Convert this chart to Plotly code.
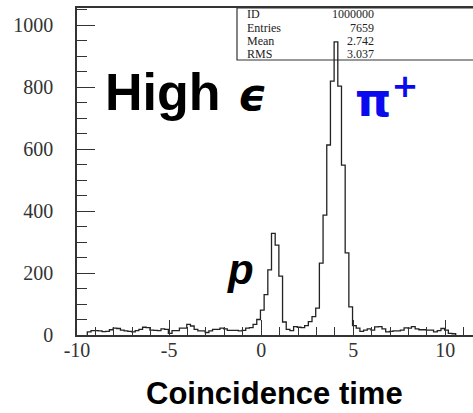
import numpy as np
import plotly.graph_objects as go

# ---- data ----
bin_start = -9.44
bin_width = 0.2
counts = [
    10, 14, 14, 13, 11, 12, 17, 22, 21, 16, 13, 12, 10, 14, 18, 25, 24, 16, 15, 14,
    20, 18, 5, 14, 14, 22, 22, 34, 29, 18, 13, 13, 8, 13, 18, 18, 22, 20, 15, 15,
    15, 13, 15,
    22, 24, 34, 50, 80, 130, 210, 328, 290, 190, 42, 18, 14, 27, 25, 24, 30, 43, 59, 87,
    232, 387, 613, 819, 946, 803, 548, 265, 91, 30,
    22, 12, 16, 20, 16, 26, 27, 20, 10, 12, 13, 13, 16, 23, 22, 27, 20, 17, 17, 16,
    16, 10, 14, 21, 16, 5, 4,
]
x_tickvals = [-10, -5, 0, 5, 10]
x_ticktext = ["-10", "-5", "0", "5", "10"]
y_tickvals = [0, 200, 400, 600, 800, 1000]
y_ticktext = ["0", "200", "400", "600", "800", "1000"]
stats_labels = ["ID", "Entries", "Mean", "RMS"]
stats_values = ["1000000", "7659", "2.742", "3.037"]
x_title = "Coincidence time"

# ---- build step outline ----
n = len(counts)
edges = bin_start + bin_width * np.arange(n + 1)
xs = [edges[0]] + list(edges[:-1]) + [edges[-1], edges[-1]]
ys = [0] + list(counts) + [counts[-1], 0]

W, H = 473, 413
L, R, T, B = 77, 0, 8, 78
pw, ph = W - L - R, H - T - B

fig = go.Figure()
fig.add_trace(go.Scatter(
    x=xs, y=ys, mode="lines", line=dict(shape="hv", color="#222222", width=1.3),
    hoverinfo="skip", showlegend=False,
))

def px2paper(px, py):
    return (px - L) / pw, (H - B - py) / ph

# stats box
x0, y0 = px2paper(237, 60)
x1, y1 = px2paper(490, 8)
fig.add_shape(type="rect", xref="paper", yref="paper", x0=x0, y0=y0, x1=x1, y1=y1,
              line=dict(color="#333333", width=1.2), fillcolor="rgba(0,0,0,0)", layer="below")

row_y = [14, 28, 41, 54]
annots = []
for lab, val, ry in zip(stats_labels, stats_values, row_y):
    ax, ay = px2paper(245, ry)
    annots.append(dict(x=ax, y=ay, xref="paper", yref="paper", text=lab, showarrow=False,
                       xanchor="left", yanchor="middle",
                       font=dict(family="Liberation Serif", size=12, color="#222222")))
    bx, by = px2paper(376, ry)
    annots.append(dict(x=bx, y=by, xref="paper", yref="paper", text=val, showarrow=False,
                       xanchor="right", yanchor="middle",
                       font=dict(family="Liberation Serif", size=12, color="#222222")))

# big labels
hx, hy = px2paper(163, 92)
annots.append(dict(x=hx, y=hy, xref="paper", yref="paper", text="<b>High</b>",
                   showarrow=False, xanchor="center", yanchor="middle",
                   font=dict(family="Liberation Sans", size=52, color="black")))
ex, ey = px2paper(252, 95)
annots.append(dict(x=ex, y=ey, xref="paper", yref="paper", text="<b><i>ϵ</i></b>",
                   showarrow=False, xanchor="center", yanchor="middle",
                   font=dict(family="DejaVu Sans", size=44, color="black")))
qx, qy = px2paper(386, 97)
annots.append(dict(x=qx, y=qy, xref="paper", yref="paper", text="<b>π<sup>+</sup></b>",
                   showarrow=False, xanchor="center", yanchor="middle",
                   font=dict(family="DejaVu Sans", size=46, color="#0a0aee")))
ppx, ppy = px2paper(240, 269)
annots.append(dict(x=ppx, y=ppy, xref="paper", yref="paper", text="<b><i>p</i></b>",
                   showarrow=False, xanchor="center", yanchor="middle",
                   font=dict(family="Liberation Sans", size=42, color="black")))
tx, ty = px2paper(274, 394)
annots.append(dict(x=tx, y=ty, xref="paper", yref="paper", text="<b>%s</b>" % x_title,
                   showarrow=False, xanchor="center", yanchor="middle",
                   font=dict(family="Liberation Sans", size=31, color="black")))

fig.update_layout(
    width=W, height=H, margin=dict(l=L, r=R, t=T, b=B, pad=0),
    paper_bgcolor="white", plot_bgcolor="white",
    annotations=annots,
    xaxis=dict(range=[-10, 11.5], tickmode="array", tickvals=x_tickvals, ticktext=x_ticktext,
               ticks="inside", ticklen=15, tickwidth=1.3,
               tickcolor="#333333", showline=True, linecolor="#333333", linewidth=1.5,
               mirror=True, showgrid=False, zeroline=False,
               minor=dict(dtick=1, tick0=0, ticks="inside", ticklen=8, tickwidth=1.2,
                          tickcolor="#333333", showgrid=False),
               tickfont=dict(family="Liberation Serif", size=20, color="#333333"),
               ticklabelstandoff=-4),
    yaxis=dict(range=[0, 1055], tickmode="array", tickvals=y_tickvals, ticktext=y_ticktext,
               ticks="inside", ticklen=18, tickwidth=1.3,
               tickcolor="#333333", showline=True, linecolor="#333333", linewidth=1.5,
               showgrid=False, zeroline=False,
               minor=dict(dtick=50, tick0=0, ticks="inside", ticklen=10, tickwidth=1.2,
                          tickcolor="#333333", showgrid=False),
               tickfont=dict(family="Liberation Serif", size=20, color="#333333"),
               ticklabelstandoff=18),
)

fig.write_html("out.html")
